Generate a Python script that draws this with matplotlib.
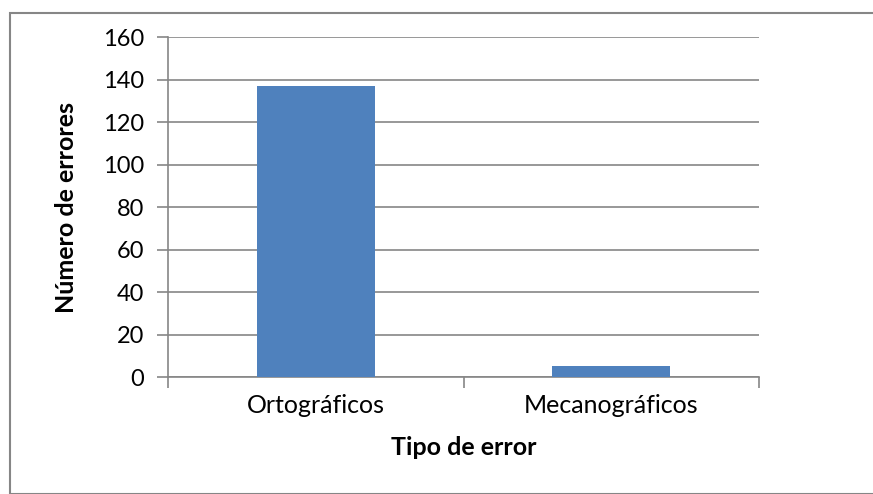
import matplotlib.pyplot as plt
from matplotlib.patches import Rectangle

categorias = ['Ortográficos', 'Mecanográficos']
errores = [137, 5]
yticks = [0, 20, 40, 60, 80, 100, 120, 140, 160]

plt.rcParams['font.family'] = ['Lato', 'DejaVu Sans']

W, H = 873, 494
fig = plt.figure(figsize=(W / 100, H / 100), dpi=100)

# marco exterior del gráfico (estilo Excel)
fig.patches.append(Rectangle((10 / W, 0), 2, 1 - 13 / H, transform=fig.transFigure,
                             fill=False, edgecolor='#868686', linewidth=1.5))

left, right, top, bottom = 168, 759, 37, 377
ax = fig.add_axes([left / W, 1 - bottom / H, (right - left) / W, (bottom - top) / H])

gris = '#868686'
x = range(len(categorias))
ax.bar(x, errores, width=0.4, color='#4F81BD', zorder=3)

ax.set_xlim(-0.5, len(categorias) - 0.5)
ax.set_ylim(0, 160)
ax.set_yticks(yticks)
ax.yaxis.grid(True, color=gris, linewidth=1.2, zorder=0)

# marcas en los límites entre categorías
ax.set_xticks([-0.5, 0.5, 1.5])
ax.set_xticklabels([])
ax.set_xticks(list(x), minor=True)
ax.set_xticklabels(categorias, minor=True, fontsize=18)
ax.tick_params(axis='x', which='major', length=8, color=gris, width=1.2)
ax.tick_params(axis='x', which='minor', length=0, pad=12)
ax.tick_params(axis='y', length=8, color=gris, width=1.2, labelsize=17, pad=9)

for s in ['top', 'right']:
    ax.spines[s].set_visible(False)
for s in ['left', 'bottom']:
    ax.spines[s].set_color(gris)
    ax.spines[s].set_linewidth(1.2)

ax.set_xlabel('Tipo de error', fontsize=18, fontweight='bold', labelpad=14)
ax.set_ylabel('Número de errores', fontsize=18, fontweight='bold', labelpad=18)

fig.savefig('out.png', dpi=100)
